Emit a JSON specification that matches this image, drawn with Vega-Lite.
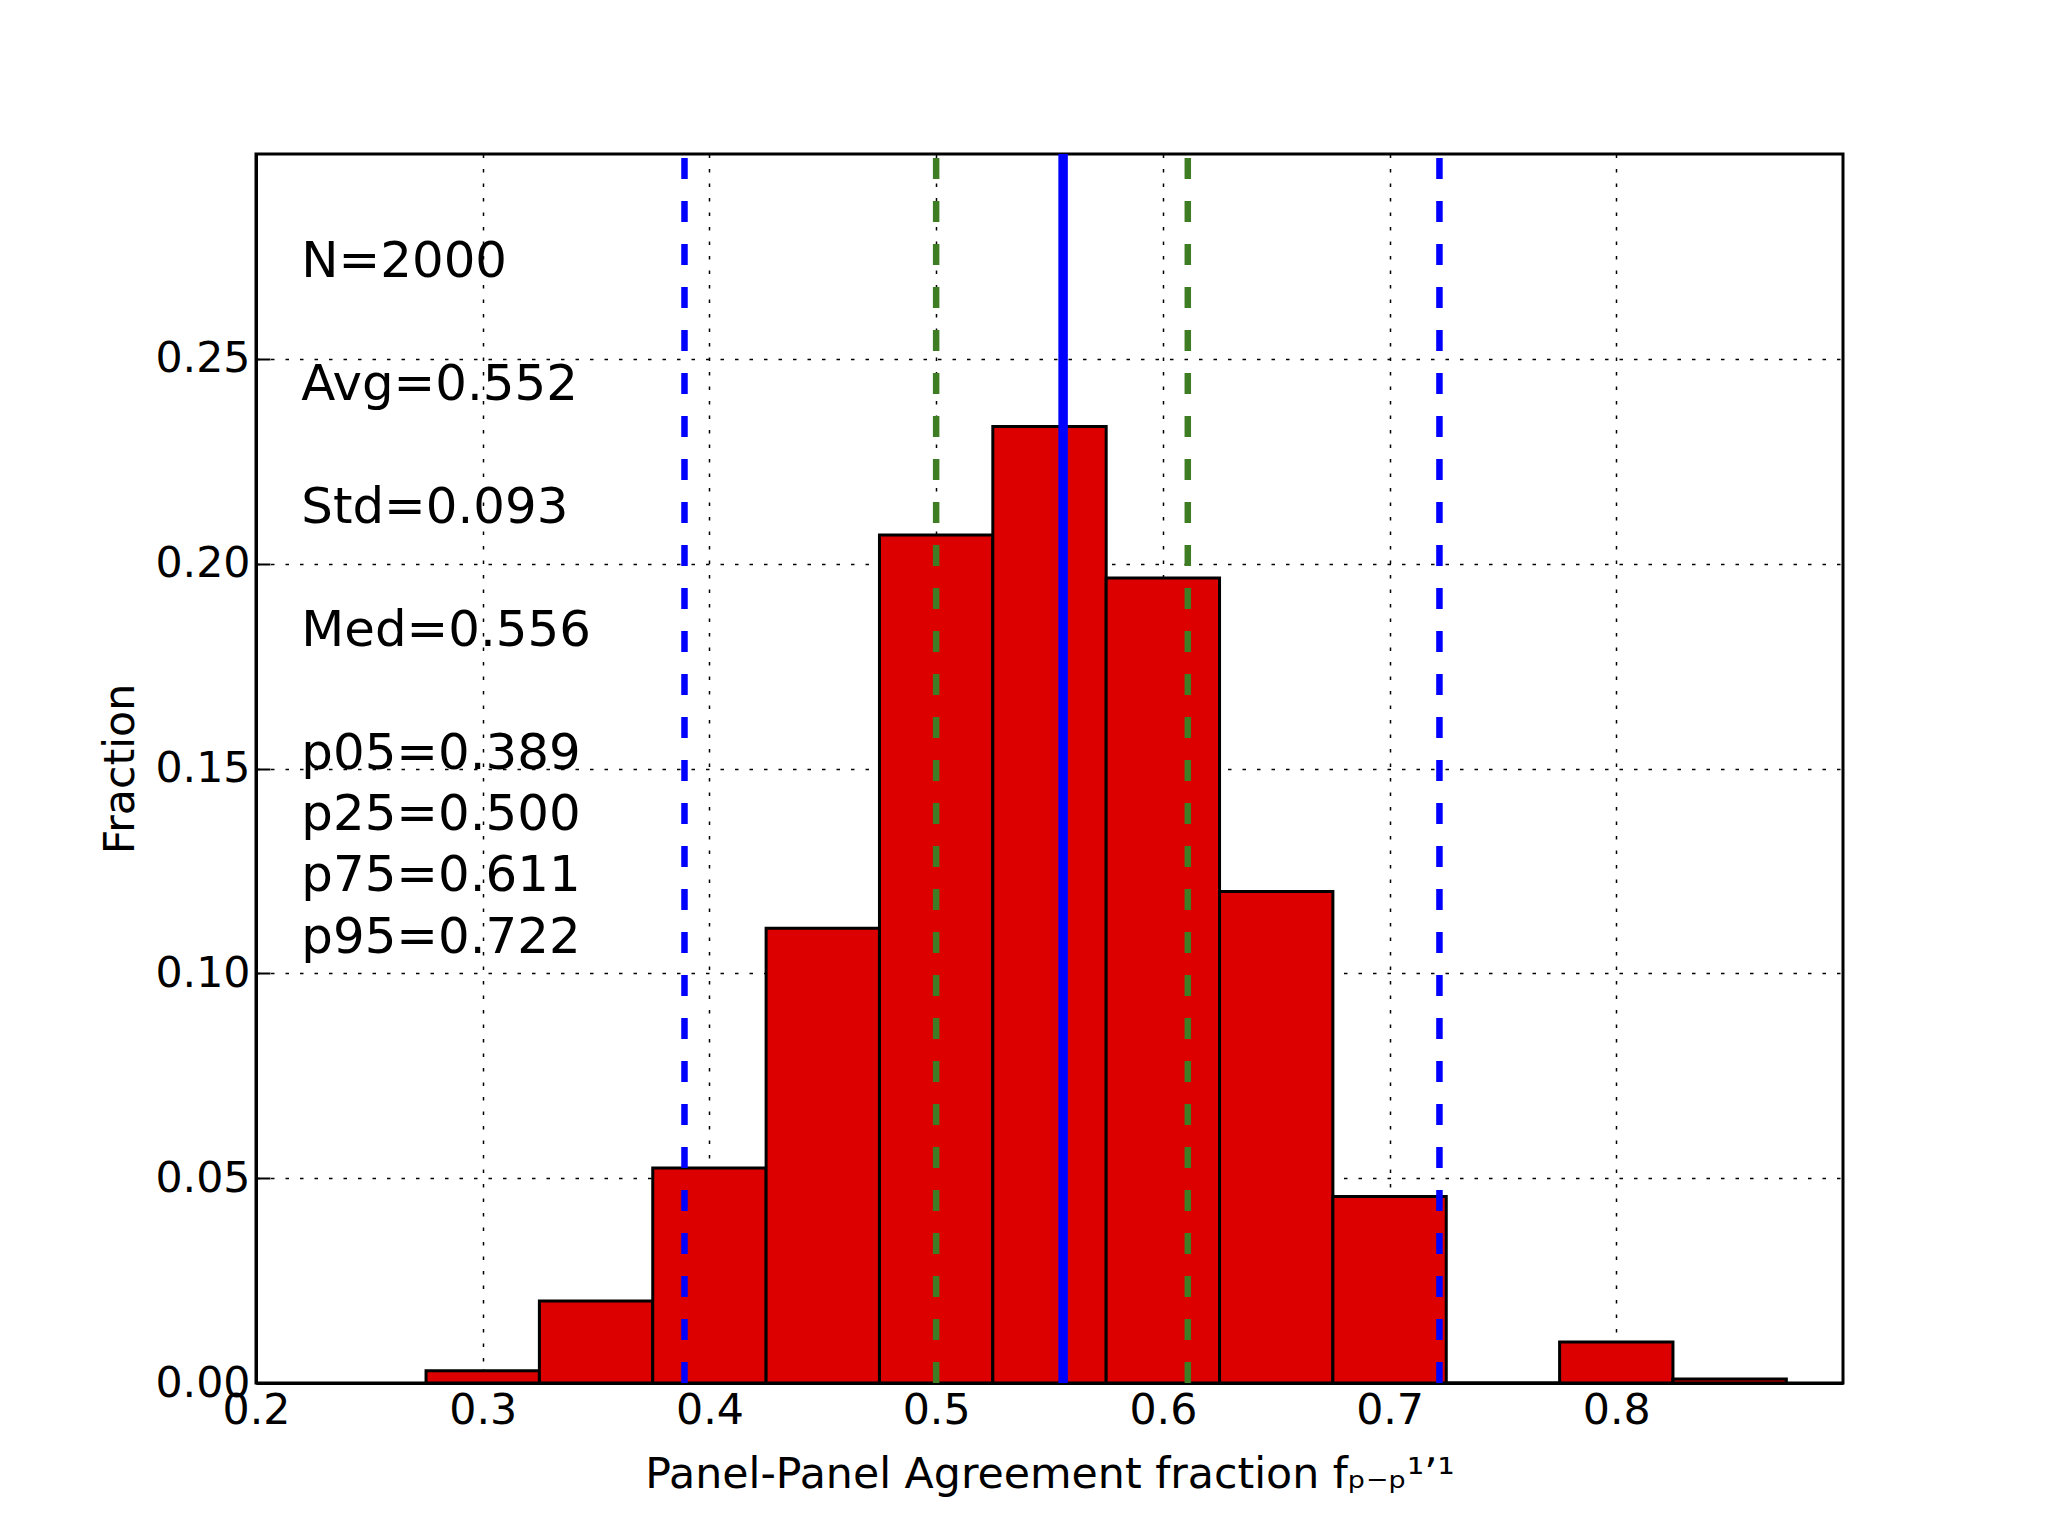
{
  "$schema": "https://vega.github.io/schema/vega-lite/v6.json",
  "autosize": {"type": "none"},
  "padding": {"left": 256, "top": 154, "right": 205, "bottom": 153},
  "width": 1587,
  "height": 1229,
  "background": "white",
  "config": {
    "view": {"stroke": "black", "strokeWidth": 3},
    "font": "DejaVu Sans",
    "text": {
      "align": "left",
      "baseline": "alphabetic",
      "font": "DejaVu Sans",
      "fontSize": 49.8,
      "lineHeight": 61.45,
      "lineBreak": "\n",
      "color": "black"
    },
    "axis": {
      "labelFont": "DejaVu Sans",
      "labelFontSize": 42.7,
      "labelColor": "black",
      "titleFont": "DejaVu Sans",
      "titleFontSize": 42.7,
      "titleFontWeight": "normal",
      "titleColor": "black",
      "grid": true,
      "gridColor": "black",
      "gridOpacity": 1,
      "gridWidth": 1.5,
      "gridDash": [3.5, 11],
      "domainColor": "black",
      "domainWidth": 3,
      "tickColor": "black",
      "tickWidth": 2,
      "tickSize": -14,
      "labelFlush": false,
      "labelOverlap": false,
      "labelBound": false,
      "zindex": 1
    }
  },
  "datasets": {
    "bins": [
      {"bin_start": 0.275, "bin_end": 0.325, "fraction": 0.003},
      {"bin_start": 0.325, "bin_end": 0.375, "fraction": 0.02},
      {"bin_start": 0.375, "bin_end": 0.425, "fraction": 0.0525},
      {"bin_start": 0.425, "bin_end": 0.475, "fraction": 0.111},
      {"bin_start": 0.475, "bin_end": 0.525, "fraction": 0.207},
      {"bin_start": 0.525, "bin_end": 0.575, "fraction": 0.2335},
      {"bin_start": 0.575, "bin_end": 0.625, "fraction": 0.1965},
      {"bin_start": 0.625, "bin_end": 0.675, "fraction": 0.12},
      {"bin_start": 0.675, "bin_end": 0.725, "fraction": 0.0455},
      {"bin_start": 0.725, "bin_end": 0.775, "fraction": 0},
      {"bin_start": 0.775, "bin_end": 0.825, "fraction": 0.01},
      {"bin_start": 0.825, "bin_end": 0.875, "fraction": 0.001}
    ],
    "stats": [
      {"stat": "p05", "value": 0.389, "kind": "outer"},
      {"stat": "p25", "value": 0.5, "kind": "quartile"},
      {"stat": "Med", "value": 0.556, "kind": "median"},
      {"stat": "p75", "value": 0.611, "kind": "quartile"},
      {"stat": "p95", "value": 0.722, "kind": "outer"}
    ],
    "summary": [
      {"key": "N", "text": "N=2000"},
      {"key": "Avg", "text": "Avg=0.552"},
      {"key": "Std", "text": "Std=0.093"},
      {"key": "Med", "text": "Med=0.556"},
      {"key": "pct", "text": "p05=0.389\np25=0.500\np75=0.611\np95=0.722"}
    ]
  },
  "layer": [
    {
      "data": {"name": "bins"},
      "mark": {"type": "bar", "fill": "#dc0000", "stroke": "black", "strokeWidth": 3},
      "encoding": {
        "x": {
          "field": "bin_start",
          "type": "quantitative",
          "scale": {"domain": [0.2, 0.9], "nice": false, "zero": false},
          "axis": {
            "values": [0.2, 0.3, 0.4, 0.5, 0.6, 0.7, 0.8],
            "format": ".1f",
            "labelPadding": 20,
            "title": "Panel-Panel Agreement fraction fₚ₋ₚ¹ʼ¹",
            "titlePadding": 22
          }
        },
        "x2": {"field": "bin_end"},
        "y": {
          "field": "fraction",
          "type": "quantitative",
          "stack": null,
          "scale": {"domain": [0, 0.3], "nice": false},
          "axis": {
            "values": [0, 0.05, 0.1, 0.15, 0.2, 0.25],
            "format": ".2f",
            "labelPadding": 20,
            "title": "Fraction",
            "titlePadding": 12
          }
        },
        "y2": {"datum": 0}
      }
    },
    {
      "data": {"name": "stats"},
      "transform": [{"filter": "datum.kind !== 'median'"}],
      "mark": {"type": "rule", "strokeWidth": 6.5, "strokeDash": [21, 22]},
      "encoding": {
        "x": {"field": "value", "type": "quantitative"},
        "y": {"datum": 0, "type": "quantitative"},
        "y2": {"datum": 0.3},
        "color": {
          "field": "kind",
          "type": "nominal",
          "scale": {"domain": ["outer", "quartile"], "range": ["#0000ff", "#3f7d24"]},
          "legend": null
        }
      }
    },
    {
      "data": {"name": "stats"},
      "transform": [{"filter": "datum.kind === 'median'"}],
      "mark": {"type": "rule", "strokeWidth": 9.5, "color": "#0000ff"},
      "encoding": {
        "x": {"field": "value", "type": "quantitative"},
        "y": {"datum": 0, "type": "quantitative"},
        "y2": {"datum": 0.3}
      }
    },
    {
      "data": {"name": "summary"},
      "transform": [{"filter": "datum.key === 'N'"}],
      "mark": {"type": "text"},
      "encoding": {
        "x": {"datum": 0.22, "type": "quantitative"},
        "y": {"datum": 0.27, "type": "quantitative"},
        "text": {"field": "text", "type": "nominal"}
      }
    },
    {
      "data": {"name": "summary"},
      "transform": [{"filter": "datum.key === 'Avg'"}],
      "mark": {"type": "text"},
      "encoding": {
        "x": {"datum": 0.22, "type": "quantitative"},
        "y": {"datum": 0.24, "type": "quantitative"},
        "text": {"field": "text", "type": "nominal"}
      }
    },
    {
      "data": {"name": "summary"},
      "transform": [{"filter": "datum.key === 'Std'"}],
      "mark": {"type": "text"},
      "encoding": {
        "x": {"datum": 0.22, "type": "quantitative"},
        "y": {"datum": 0.21, "type": "quantitative"},
        "text": {"field": "text", "type": "nominal"}
      }
    },
    {
      "data": {"name": "summary"},
      "transform": [{"filter": "datum.key === 'Med'"}],
      "mark": {"type": "text"},
      "encoding": {
        "x": {"datum": 0.22, "type": "quantitative"},
        "y": {"datum": 0.18, "type": "quantitative"},
        "text": {"field": "text", "type": "nominal"}
      }
    },
    {
      "data": {"name": "summary"},
      "transform": [{"filter": "datum.key === 'pct'"}],
      "mark": {"type": "text"},
      "encoding": {
        "x": {"datum": 0.22, "type": "quantitative"},
        "y": {"datum": 0.15, "type": "quantitative"},
        "text": {"field": "text", "type": "nominal"}
      }
    }
  ]
}
